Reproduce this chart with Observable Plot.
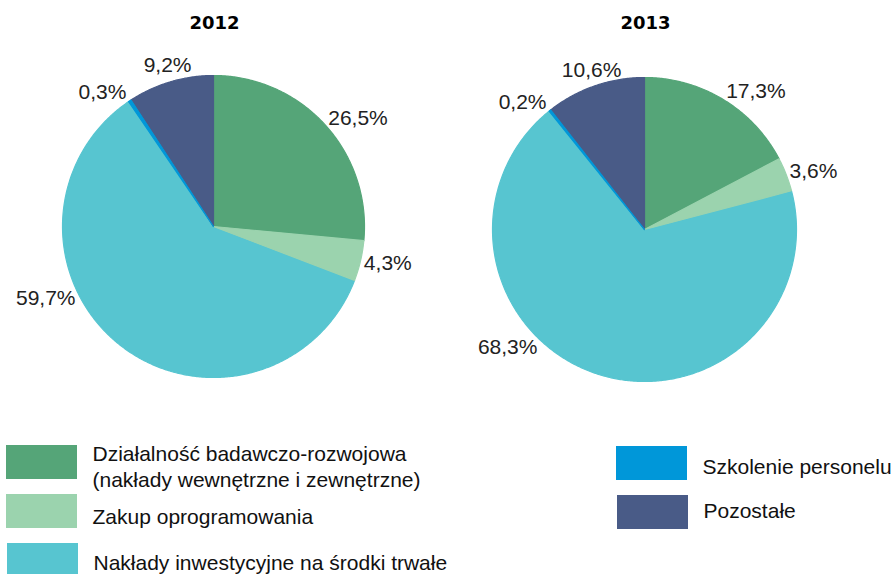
<!DOCTYPE html>
<html>
<head>
<meta charset="utf-8">
<script src="https://cdn.jsdelivr.net/npm/d3@7"></script>
<script src="https://cdn.jsdelivr.net/npm/@observablehq/plot@0.6"></script>
<style>
  html, body { margin: 0; padding: 0; background: #fff; }
</style>
</head>
<body>
<div id="chart"></div>
<script>
// ---- data ----
const categories = [
  "Działalność badawczo-rozwojowa\n(nakłady wewnętrzne i zewnętrzne)",
  "Zakup oprogramowania",
  "Nakłady inwestycyjne na środki trwałe",
  "Szkolenie personelu",
  "Pozostałe"
];
const years = ["2012", "2013"];
const values2012 = [26.5, 4.3, 59.7, 0.3, 9.2];
const values2013 = [17.3, 3.6, 68.3, 0.2, 10.6];
const colors = ["#55a578", "#9bd3ae", "#57c5d0", "#0097d9", "#495b87"];

// ---- layout ----
const W = 895, H = 574;
const pies = [{cx: 213, cy: 226, r: 151}, {cx: 644, cy: 229, r: 152}];
const labelFont = 21;
const labelNudge = [0, 0, 25, 0, 0]; // degrees, best-fit shift of big slice label
const legendPos = [
  {x: 6, y: 445, ty: 465}, {x: 6, y: 494, ty: 515}, {x: 7, y: 543, ty: 561},
  {x: 616, y: 446, ty: 465}, {x: 617, y: 495, ty: 509}
];
const swW = 71, swH = 34;

const fmt = v => v.toFixed(1).replace(".", ",") + "%";
const rad = d => d * Math.PI / 180;

const slices = [];
const labels = [];
const titles = [];
[values2012, values2013].forEach((vals, yi) => {
  const {cx, cy, r} = pies[yi];
  const total = d3.sum(vals);
  let acc = 0;
  vals.forEach((v, i) => {
    const a0 = acc / total * 360, a1 = (acc + v) / total * 360;
    acc += v;
    const key = years[yi] + "-" + i;
    const pts = [{key, x: cx, y: cy, color: colors[i]}];
    const n = Math.max(2, Math.ceil((a1 - a0) / 0.5));
    for (let k = 0; k <= n; k++) {
      const a = rad(a0 + (a1 - a0) * k / n);
      pts.push({key, x: cx + r * Math.sin(a), y: cy - r * Math.cos(a), color: colors[i]});
    }
    slices.push({v, pts});
    // best-fit style label placement next to the arc midpoint
    const text = fmt(v);
    const th = rad((a0 + a1) / 2 + labelNudge[i]);
    const w = text.length * 0.53 * labelFont;
    const s = Math.sin(th), c = Math.cos(th);
    const ax = cx + r * s, ay = cy - r * c;
    let dx, dy;
    if (Math.abs(s) >= 0.4) { dx = Math.sign(s) * (w / 2 + 5); dy = -c * 10; }
    else { dx = s * 10; dy = -Math.sign(c) * 16; }
    labels.push({x: ax + dx, y: ay + dy, text});
  });
  titles.push({x: cx + 1, y: 23, text: years[yi]});
});
// draw large slices first so thin slices stay visible on top
const slicePts = slices.sort((a, b) => b.v - a.v).flatMap(d => d.pts);

const legendRects = categories.map((c, i) => ({
  x1: legendPos[i].x, x2: legendPos[i].x + swW,
  y1: legendPos[i].y, y2: legendPos[i].y + swH, color: colors[i]
}));
const legendTexts = categories.map((c, i) => ({
  x: legendPos[i].x + 86, y: legendPos[i].ty, text: c
}));

const chart = Plot.plot({
  width: W, height: H,
  margin: 0,
  x: {domain: [0, W], range: [0, W], axis: null},
  y: {domain: [0, H], range: [0, H], axis: null},
  color: {type: "identity"},
  style: {fontFamily: "'Liberation Sans', Arial, sans-serif", background: "#fff", overflow: "visible"},
  marks: [
    Plot.line(slicePts, {x: "x", y: "y", z: "key", fill: "color", stroke: "color", strokeWidth: 1.2, curve: "linear-closed"}),
    Plot.text(titles, {x: "x", y: "y", text: "text", fontSize: 18, fontWeight: "bold",
      fontFamily: "'DejaVu Sans', sans-serif", fill: "#000", lineAnchor: "middle"}),
    Plot.text(labels, {x: "x", y: "y", text: "text", fontSize: labelFont, fill: "#222", lineAnchor: "middle"}),
    Plot.rect(legendRects, {x1: "x1", x2: "x2", y1: "y1", y2: "y2", fill: "color"}),
    Plot.text(legendTexts, {x: "x", y: "y", text: "text", fontSize: 21, fill: "#111",
      textAnchor: "start", lineAnchor: "middle", lineHeight: 1.25})
  ]
});
document.getElementById("chart").appendChild(chart);
</script>
</body>
</html>
